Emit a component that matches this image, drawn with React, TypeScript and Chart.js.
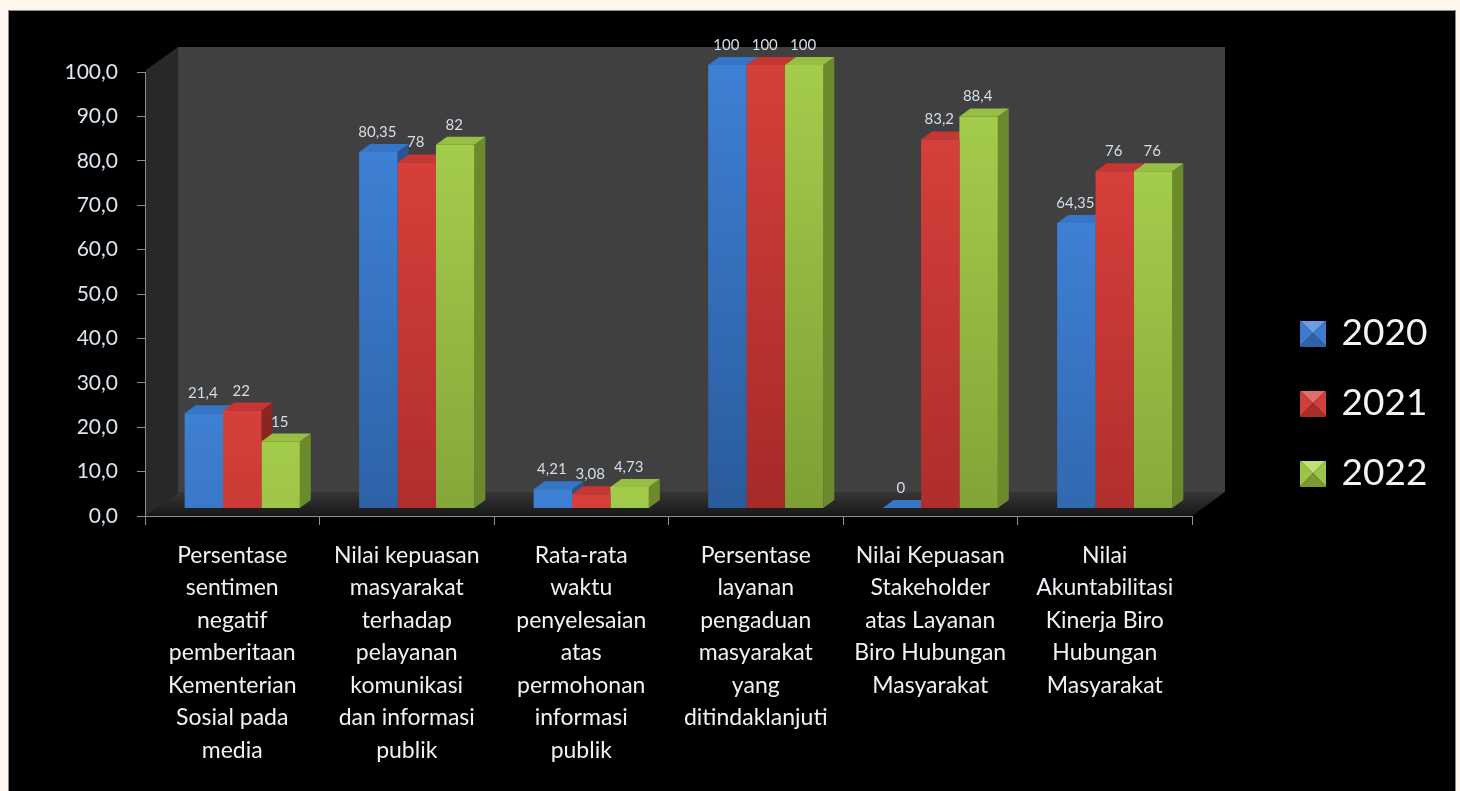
import React, { useEffect, useRef } from "react";
import { Chart, registerables } from "chart.js";

Chart.register(...registerables);

// ---------- data ----------
const categories: string[][] = [
  ["Persentase", "sentimen", "negatif", "pemberitaan", "Kementerian", "Sosial pada", "media"],
  ["Nilai kepuasan", "masyarakat", "terhadap", "pelayanan", "komunikasi", "dan informasi", "publik"],
  ["Rata-rata", "waktu", "penyelesaian", "atas", "permohonan", "informasi", "publik"],
  ["Persentase", "layanan", "pengaduan", "masyarakat", "yang", "ditindaklanjuti"],
  ["Nilai Kepuasan", "Stakeholder", "atas Layanan", "Biro Hubungan", "Masyarakat"],
  ["Nilai", "Akuntabilitasi", "Kinerja Biro", "Hubungan", "Masyarakat"],
];
const seriesNames = ["2020", "2021", "2022"];
const values2020 = [21.4, 80.35, 4.21, 100, 0, 64.35];
const values2021 = [22, 78, 3.08, 100, 83.2, 76];
const values2022 = [15, 82, 4.73, 100, 88.4, 76];
const yMin = 0;
const yMax = 100;
const yStep = 10;

// ---------- style ----------
const FONT = "Lato, 'Open Sans', 'DejaVu Sans', sans-serif";
const palette = [
  { light: "#3e80d4", dark: "#2a5b9c", side: "#2a5590", top: "#3775c6", lg: ["#6b9ee0", "#3e7bcc", "#2f63a8"] },
  { light: "#d63f3a", dark: "#a52a28", side: "#8c2422", top: "#c63733", lg: ["#e26e6a", "#cf3f3b", "#a82c2a"] },
  { light: "#a4cc4b", dark: "#7e9f35", side: "#6a8a2c", top: "#97bf43", lg: ["#c2e07a", "#9cc446", "#7a9a32"] },
];
const DX = 11;
const DY = -8;
const SHIFT = 10;

function fmt(v: number): string {
  return String(v).replace(".", ",");
}

function makeLegendBox(c: string[]): HTMLCanvasElement {
  const cv = document.createElement("canvas");
  cv.width = 26;
  cv.height = 26;
  const g = cv.getContext("2d")!;
  const s = 26, m = 13;
  const tri = (pts: number[][], col: string) => {
    g.beginPath();
    g.moveTo(pts[0][0], pts[0][1]);
    g.lineTo(pts[1][0], pts[1][1]);
    g.lineTo(pts[2][0], pts[2][1]);
    g.closePath();
    g.fillStyle = col;
    g.fill();
  };
  tri([[0, 0], [s, 0], [m, m]], c[0]);
  tri([[0, 0], [0, s], [m, m]], c[1]);
  tri([[s, 0], [s, s], [m, m]], c[1]);
  tri([[0, s], [s, s], [m, m]], c[2]);
  return cv;
}

const scenePlugin = {
  id: "scene3d",
  beforeDraw(chart: any) {
    const { ctx, chartArea: a } = chart;
    const L = a.left, R = a.right, T = a.top, B = a.bottom;
    const wx = 33, wy = -25, fb = B - 24;
    ctx.save();
    // back wall
    ctx.fillStyle = "#404040";
    ctx.fillRect(L + wx, T + wy, R - L, fb - (T + wy));
    // side wall
    ctx.beginPath();
    ctx.moveTo(L + 1, T - 2);
    ctx.lineTo(L + wx, T + wy);
    ctx.lineTo(L + wx, fb);
    ctx.lineTo(L + 1, B);
    ctx.closePath();
    ctx.fillStyle = "#282828";
    ctx.fill();
    // floor
    const fg = ctx.createLinearGradient(0, fb, 0, B);
    fg.addColorStop(0, "#363636");
    fg.addColorStop(0.6, "#242424");
    fg.addColorStop(1, "#161616");
    ctx.beginPath();
    ctx.moveTo(L + 1, B);
    ctx.lineTo(R, B);
    ctx.lineTo(R + wx, fb);
    ctx.lineTo(L + wx, fb);
    ctx.closePath();
    ctx.fillStyle = fg;
    ctx.fill();
    ctx.restore();
  },
  beforeDatasetsDraw(chart: any) {
    const { ctx } = chart;
    ctx.save();
    ctx.translate(SHIFT, 0);
    const n = chart.data.labels.length;
    for (let i = 0; i < n; i++) {
      for (let d = 0; d < chart.data.datasets.length; d++) {
        const el: any = chart.getDatasetMeta(d).data[i];
        if (!el) continue;
        const x = el.x, y = el.y, base = el.base, w = el.width;
        const l = x - w / 2, r = x + w / 2;
        const p = palette[d];
        // side face
        ctx.beginPath();
        ctx.moveTo(r, y);
        ctx.lineTo(r + DX, y + DY);
        ctx.lineTo(r + DX, base + DY);
        ctx.lineTo(r, base);
        ctx.closePath();
        ctx.fillStyle = p.side;
        ctx.fill();
        // top face
        ctx.beginPath();
        ctx.moveTo(l, y);
        ctx.lineTo(l + DX, y + DY);
        ctx.lineTo(r + DX, y + DY);
        ctx.lineTo(r, y);
        ctx.closePath();
        ctx.fillStyle = p.top;
        ctx.fill();
      }
    }
  },
  afterDatasetsDraw(chart: any) {
    const { ctx } = chart;
    ctx.font = `15px ${FONT}`;
    ctx.fillStyle = "#d3deea";
    ctx.textAlign = "center";
    ctx.textBaseline = "alphabetic";
    chart.data.datasets.forEach((ds: any, d: number) => {
      chart.getDatasetMeta(d).data.forEach((el: any, i: number) => {
        ctx.fillText(fmt(ds.data[i]), el.x - 1, el.y - 15);
      });
    });
    ctx.restore();
  },
};

export default function App() {
  const ref = useRef<HTMLCanvasElement | null>(null);

  useEffect(() => {
    if (!ref.current) return;
    const lists = [values2020, values2021, values2022];
    const boxes = palette.map((p) => makeLegendBox(p.lg));

    const bg = (d: number) => (c: any) => {
      const p = palette[d];
      const chart = c.chart;
      const yb = chart.scales && chart.scales.yb;
      if (!chart.chartArea || !yb || c.type !== "data" || !c.parsed) return p.light;
      const top = yb.getPixelForValue(c.parsed.y);
      const bottom = yb.getPixelForValue(0);
      if (!isFinite(top) || !isFinite(bottom)) return p.light;
      const full = yb.getPixelForValue(0) - yb.getPixelForValue(yMax);
      const g = chart.ctx.createLinearGradient(0, top, 0, top + Math.max(full, 1));
      g.addColorStop(0, p.light);
      g.addColorStop(1, p.dark);
      return g;
    };

    const chart = new Chart(ref.current, {
      type: "bar",
      data: {
        labels: categories,
        datasets: seriesNames.map((name, d) => ({
          label: name,
          data: lists[d],
          backgroundColor: bg(d),
          borderWidth: 0,
          categoryPercentage: 0.66,
          barPercentage: 1.0,
          xAxisID: "x",
          yAxisID: "yb",
          clip: false as any,
        })),
      },
      options: {
        animation: false,
        responsive: false,
        devicePixelRatio: 1,
        events: [],
        layout: { padding: { top: 72, left: 0, right: 33, bottom: 0 } },
        plugins: {
          tooltip: { enabled: false },
          legend: {
            position: "right",
            align: "start",
            maxWidth: 157,
            title: {
              display: true,
              text: " ",
              color: "rgba(0,0,0,0)",
              font: { size: 10, lineHeight: 1.2 },
              padding: { top: 198, bottom: 0 },
            },
            labels: {
              usePointStyle: true,
              boxWidth: 20,
              boxHeight: 26,
              padding: 33,
              color: "#f2f4f7",
              font: { family: FONT, size: 37 },
              generateLabels: () =>
                seriesNames.map((name, d) => ({
                  text: name,
                  fillStyle: palette[d].light,
                  strokeStyle: palette[d].light,
                  lineWidth: 0,
                  hidden: false,
                  datasetIndex: d,
                  pointStyle: boxes[d] as any,
                  fontColor: "#f2f4f7",
                })),
            },
          },
        },
        scales: {
          x: {
            type: "category",
            position: "bottom",
            offset: true,
            afterFit: (s: any) => {
              s.height = 275;
            },
            grid: {
              offset: true,
              drawOnChartArea: false,
              drawTicks: true,
              tickLength: 9,
              color: "#8f8f8f",
            },
            border: { display: true, color: "#8f8f8f", width: 1 },
            ticks: {
              autoSkip: false,
              maxRotation: 0,
              minRotation: 0,
              padding: 14,
              color: "#eef2f6",
              font: { family: FONT, size: 23, lineHeight: 1.413 },
            },
          },
          y: {
            type: "linear",
            position: "left",
            min: yMin,
            max: yMax,
            afterFit: (s: any) => {
              s.width = 145;
            },
            grid: {
              drawOnChartArea: false,
              drawTicks: true,
              tickLength: 8,
              color: "#8f8f8f",
            },
            border: { display: true, color: "#8f8f8f", width: 1 },
            ticks: {
              stepSize: yStep,
              padding: 19,
              color: "#dbe5f0",
              font: { family: FONT, size: 21 },
              callback: (v: any) => Number(v).toFixed(1).replace(".", ","),
            },
          },
          yb: {
            type: "linear",
            position: "right",
            display: true,
            min: -1.806,
            max: 98.42,
            afterFit: (s: any) => {
              s.width = 78;
            },
            grid: { display: false, drawTicks: false },
            border: { display: false },
            ticks: { display: false },
          },
        },
      },
      plugins: [scenePlugin as any],
    });
    return () => chart.destroy();
  }, []);

  return (
    <div
      style={{
        position: "fixed",
        left: 0,
        top: 0,
        width: 1460,
        height: 791,
        background: "#fdf6ec",
        overflow: "hidden",
      }}
    >
      <div
        style={{
          position: "absolute",
          left: 8,
          top: 10,
          width: 1448,
          height: 800,
          background: "#000",
          border: "1px solid #8a8a8a",
          boxSizing: "border-box",
        }}
      />
      <canvas
        ref={ref}
        width={1460}
        height={791}
        style={{ position: "absolute", left: 0, top: 0, width: 1460, height: 791, display: "block" }}
      />
    </div>
  );
}
